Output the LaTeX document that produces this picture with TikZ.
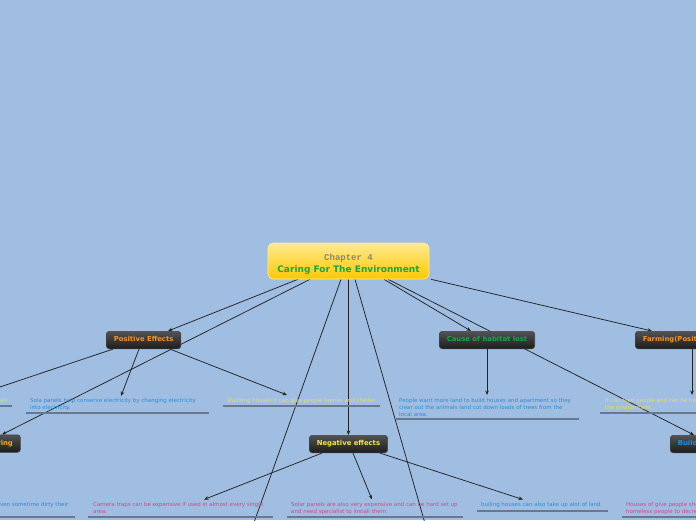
\documentclass[tikz,border=0pt]{standalone}
\usepackage{fontspec}
\setmainfont{DejaVu Sans}
\newfontfamily\monof{Liberation Mono}
\usetikzlibrary{arrows.meta}
\definecolor{bgc}{RGB}{160,190,226}
\definecolor{orangeT}{RGB}{247,148,30}
\definecolor{greenT}{RGB}{22,166,72}
\definecolor{yellowT}{RGB}{250,232,40}
\definecolor{blueT}{RGB}{30,140,215}
\definecolor{ringT}{RGB}{240,168,30}
\definecolor{sblue}{RGB}{45,140,210}
\definecolor{syellow}{RGB}{230,225,80}
\definecolor{spink}{RGB}{208,70,138}
\definecolor{ulc}{RGB}{105,120,140}
\definecolor{arrc}{RGB}{35,35,35}
\definecolor{nodetop}{RGB}{82,82,82}
\definecolor{nodebot}{RGB}{28,28,28}
\definecolor{nodeedge}{RGB}{70,70,70}
\definecolor{ctop}{RGB}{255,234,145}
\definecolor{cbot}{RGB}{255,200,0}
\definecolor{cedge}{RGB}{255,236,160}
\definecolor{chapc}{RGB}{140,135,110}
\pgfdeclarelayer{back}
\pgfdeclarelayer{mid}
\pgfsetlayers{back,mid,main}
\tikzset{
  topic/.style={rounded corners=3pt, top color=nodetop, bottom color=nodebot,
    draw=nodeedge, line width=0.6pt, minimum height=17.5pt, inner xsep=7.5pt,
    inner ysep=0pt, text height=5pt, text depth=1.2pt,
    font=\fontsize{6.85}{8}\selectfont\bfseries},
  central/.style={rounded corners=5pt, top color=ctop, bottom color=cbot,
    draw=cedge, line width=0.6pt, minimum width=161pt, minimum height=36pt,
    align=center, inner sep=0pt},
  note/.style={inner sep=0pt, align=left, anchor=north west,
    font=\fontsize{5.5}{6.7}\selectfont},
  conn/.style={draw=arrc, line width=0.75pt, -{Stealth[length=4.5pt,width=3.6pt]}},
  uline/.style={draw=ulc, line width=1.3pt}
}
\begin{document}
\begin{tikzpicture}[x=1pt,y=-1pt]
\useasboundingbox (0,0) rectangle (696,520);
\begin{pgfonlayer}{back}
  \fill[bgc] (0,0) rectangle (696,520);
\end{pgfonlayer}
\clip (0,0) rectangle (696,520);
% central
\node[central] (c) at (348.5,261)
  {\rule{0pt}{12pt}{\monof\bfseries\fontsize{9}{12}\selectfont\color{chapc}Chapter 4}\\[0pt]
   {\fontsize{9}{12}\selectfont\bfseries\color{greenT}Caring For The Environment}};
% topics
\node[topic, anchor=north west, minimum width=74pt, text=orangeT] (pos) at (106,331) {Positive Effects};
\node[topic, anchor=north west, minimum width=95pt, text=greenT] (cau) at (439,331) {Cause of habitat lost};
\node[topic, anchor=north west, text=orangeT] (farm) at (635,331) {Farming(Positive)};
\node[topic, anchor=north west, minimum width=78pt, text=yellowT] (neg) at (309,435) {Negative effects};
\node[topic, anchor=north west, text=blueT] (build) at (670,435) {Building};
\node[topic, anchor=north east, text=ringT] (ring) at (20.7,434.5) {ring};
% notes
\node[note, anchor=north east, text=syellow] (als) at (8,398.5) {als};
\node[note, text=sblue] (sola) at (30,398.5) {Sola panels help conserve electricity by changing electricity\\into electricity.};
\node[note, text=syellow] (bh) at (228,398.5) {Building houses it can give people homes and shelter.};
\node[note, text=sblue] (ppl) at (399,398.5) {People want more land to build houses and apartment so they\\clear out the animals land cut down loads of trees from the\\local area.};
\node[note, text=syellow] (feed) at (605,398.5) {It can feed people and can be helpful to\\the environment};
\node[note, anchor=north east, text=sblue] (ven) at (68.5,502.5) {ven sometime dirty their};
\node[note, text=spink] (cam) at (93,502.5) {Camera traps can be expensive if used in almost every single\\area.};
\node[note, text=spink] (sol) at (291,502.5) {Solar panels are also very expensive and can be hard set up\\and need specialist to install them.};
\node[note, text=sblue] (bl) at (481,502.5) {builing houses can also take up alot of land.};
\node[note, text=spink] (hou) at (626,502.5) {Houses of give people shelter\\homeless people to decrease};
% underlines
\draw[uline] (0,406) -- (12,406);
\draw[uline] (26,413) -- (209,413);
\draw[uline] (223,406) -- (380,406);
\draw[uline] (396,419) -- (579,419);
\draw[uline] (600,413) -- (700,413);
\draw[uline] (-5,517) -- (75,517);
\draw[uline] (88,517) -- (273,517);
\draw[uline] (287,517) -- (463,517);
\draw[uline] (477,511) -- (608,511);
\draw[uline] (622,517) -- (700,517);
% free ends
\coordinate (alsTip) at (-27,396);
\coordinate (off1) at (240.6,560);
\coordinate (off2) at (435.5,560);
\begin{pgfonlayer}{mid}
\clip (0,0) rectangle (696,520);
\draw[conn] ([xshift=-50.5pt]c.south) -- ([xshift=62pt]pos.north west);
\draw[conn] ([xshift=-38.5pt]c.south) -- ([xshift=-18.7pt]ring.north east);
\draw[conn] ([xshift=7pt]pos.south west) -- (alsTip);
\draw[conn] ([xshift=33pt]pos.south west) -- ([xshift=91pt,yshift=2.5pt]sola.north west);
\draw[conn] ([xshift=64pt]pos.south west) -- ([xshift=59pt,yshift=3.5pt]bh.north west);
\draw[conn] ([xshift=-7.5pt]c.south) -- (off1);
\draw[conn] (c.south) -- (neg.north);
\draw[conn] ([xshift=6.5pt]c.south) -- (off2);
\draw[conn] ([xshift=35.5pt]c.south) -- ([xshift=32pt]cau.north west);
\draw[conn] ([xshift=39.5pt]c.south) -- ([xshift=24pt]build.north west);
\draw[conn] ([xshift=82.5pt]c.south) -- ([xshift=17pt]farm.north west);
\draw[conn] ([xshift=57pt]farm.south west) -- ([xshift=87pt,yshift=3.5pt]feed.north west);
\draw[conn] ([xshift=48pt]cau.south west) -- ([xshift=88pt,yshift=3.5pt]ppl.north west);
\draw[conn] ([xshift=13pt]neg.south west) -- ([xshift=111pt,yshift=3pt]cam.north west);
\draw[conn] ([xshift=44pt]neg.south west) -- ([xshift=81pt,yshift=3pt]sol.north west);
\draw[conn] ([xshift=71pt]neg.south west) -- ([xshift=42pt,yshift=3pt]bl.north west);
\end{pgfonlayer}
\end{tikzpicture}
\end{document}
